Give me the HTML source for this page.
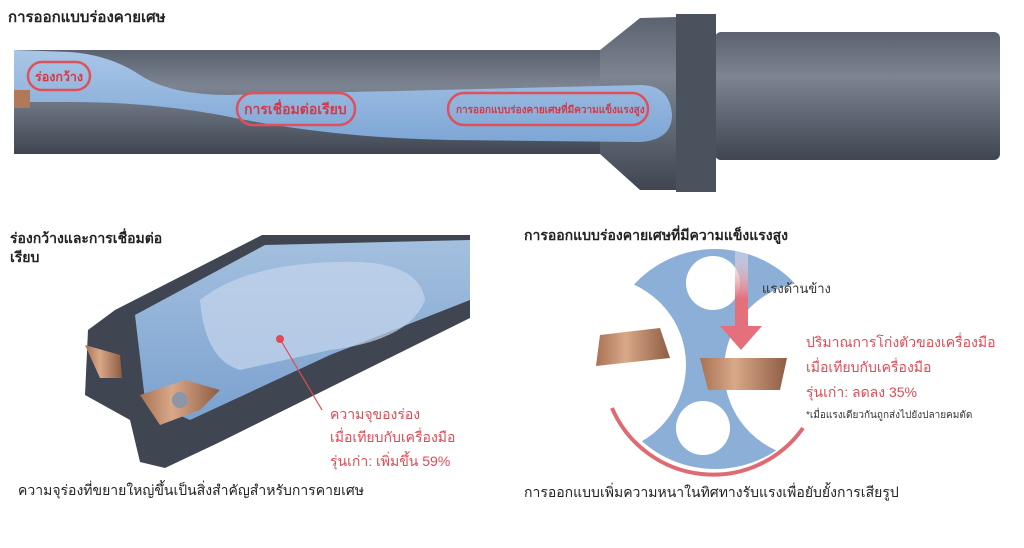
<!DOCTYPE html>
<html><head><meta charset="utf-8"><style>
body{margin:0;background:#fff;width:1024px;height:548px;overflow:hidden;font-family:"Liberation Sans","DejaVu Sans",sans-serif}
svg{position:absolute;left:0;top:0}
</style></head><body>
<svg width="1024" height="548" viewBox="0 0 1024 548">
<defs>
<linearGradient id="sh" x1="0" y1="0" x2="0" y2="1"><stop offset="0" stop-color="#5a6270"/><stop offset=".35" stop-color="#7d8592"/><stop offset="1" stop-color="#3f4652"/></linearGradient>
<linearGradient id="bl" x1="0" y1="0" x2="0" y2="1"><stop offset="0" stop-color="#a9c6e6"/><stop offset="1" stop-color="#7ea6d6"/></linearGradient>
<linearGradient id="ar" x1="0" y1="0" x2="0" y2="1"><stop offset="0" stop-color="#fff" stop-opacity=".3"/><stop offset=".5" stop-color="#e3707a"/></linearGradient>
<linearGradient id="cu" x1="0" y1="0" x2="1" y2="0"><stop offset="0" stop-color="#a87254"/><stop offset=".4" stop-color="#d9a889"/><stop offset="1" stop-color="#8e5c42"/></linearGradient>
</defs>
<text x="8" y="22" font-size="15" font-weight="bold" fill="#222">การออกแบบร่องคายเศษ</text>
<rect x="14" y="50" width="670" height="104" fill="url(#sh)"/>
<path d="M600,50 L640,18 L715,16 L715,190 L640,190 L600,154 Z" fill="url(#sh)"/>
<rect x="715" y="32" width="285" height="128" rx="6" fill="url(#sh)"/>
<rect x="676" y="14" width="40" height="178" fill="#4a525e"/>
<path d="M14,50 L70,52 Q110,55 140,75 Q170,95 230,95 L640,85 Q670,85 672,115 Q672,140 640,142 L450,140 Q330,138 220,115 Q150,102 70,102 L14,102 Z" fill="url(#bl)"/>
<path d="M14,90 L30,90 L30,108 L14,108 Z" fill="#b07a5a"/>
<g fill="none" stroke="#e0505a" stroke-width="2.5">
<rect x="28" y="62" width="62" height="28" rx="14"/>
<rect x="237" y="93" width="118" height="32" rx="16"/>
<rect x="448" y="93" width="200" height="32" rx="16"/>
</g>
<g fill="#d23a48" font-size="14" font-weight="bold">
<text x="35" y="81" font-size="12.5">ร่องกว้าง</text>
<text x="244" y="114">การเชื่อมต่อเรียบ</text>
<text x="456" y="113" font-size="10">การออกแบบร่องคายเศษที่มีความแข็งแรงสูง</text>
</g>
<text x="10" y="243" font-size="14" font-weight="bold" fill="#222">ร่องกว้างและการเชื่อมต่อ</text>
<text x="10" y="262" font-size="14" font-weight="bold" fill="#222">เรียบ</text>
<path d="M115,310 L262,235 L470,235 L470,318 L220,442 L165,468 L140,462 L130,420 L85,395 L88,330 Z" fill="#3f4652"/>
<path d="M135,315 L265,245 L470,240 L470,300 L330,355 L190,420 L145,400 Z" fill="url(#bl)" opacity=".95"/>
<path d="M200,300 Q250,260 360,262 Q420,265 425,300 Q410,340 330,350 L240,370 Q205,360 200,300 Z" fill="#c6d6ec" opacity=".7"/>
<path d="M140,395 L185,380 L220,390 L200,410 L160,425 Z" fill="url(#cu)"/>
<circle cx="180" cy="400" r="8" fill="#8d96a6"/>
<path d="M85,345 L120,355 L122,378 L100,378 Z" fill="url(#cu)"/>
<circle cx="280" cy="339" r="4" fill="#e04a55"/>
<line x1="280" y1="339" x2="322" y2="410" stroke="#e04a55" stroke-width="1.2"/>
<g fill="#e04a55" font-size="14"><text x="330" y="419">ความจุของร่อง</text><text x="330" y="442">เมื่อเทียบกับเครื่องมือ</text><text x="330" y="466">รุ่นเก่า: เพิ่มขึ้น 59%</text></g>
<text x="18" y="495" font-size="14" fill="#222">ความจุร่องที่ขยายใหญ่ขึ้นเป็นสิ่งสำคัญสำหรับการคายเศษ</text>
<text x="524" y="240" font-size="14" font-weight="bold" fill="#222">การออกแบบร่องคายเศษที่มีความแข็งแรงสูง</text>
<mask id="m"><rect width="1024" height="548" fill="#fff"/><circle cx="598" cy="365" r="88" fill="#000"/><circle cx="812" cy="370" r="88" fill="#000"/><circle cx="713" cy="283" r="27" fill="#000"/><circle cx="703" cy="428" r="27" fill="#000"/></mask>
<circle cx="715" cy="359" r="110" fill="#8cafd8" mask="url(#m)"/>
<path d="M612,408 A110,110 0 0 0 803,428" fill="none" stroke="#e06a74" stroke-width="4"/>
<path d="M735,248 L748,248 L748,326 L762,326 L741,350 L720,326 L735,326 Z" fill="url(#ar)"/>
<path d="M600,335 L660,328 L670,358 L596,366 Z" fill="url(#cu)"/>
<path d="M700,358 L787,358 L780,390 L708,390 Z" fill="url(#cu)"/>
<text x="762" y="293" font-size="13" fill="#333">แรงด้านข้าง</text>
<g fill="#e04a55" font-size="14"><text x="806" y="347">ปริมาณการโก่งตัวของเครื่องมือ</text><text x="806" y="372">เมื่อเทียบกับเครื่องมือ</text><text x="806" y="397">รุ่นเก่า: ลดลง 35%</text></g>
<text x="806" y="418" font-size="10" fill="#333">*เมื่อแรงเดียวกันถูกส่งไปยังปลายคมตัด</text>
<text x="524" y="497" font-size="14" fill="#222">การออกแบบเพิ่มความหนาในทิศทางรับแรงเพื่อยับยั้งการเสียรูป</text>
</svg>
</body></html>
